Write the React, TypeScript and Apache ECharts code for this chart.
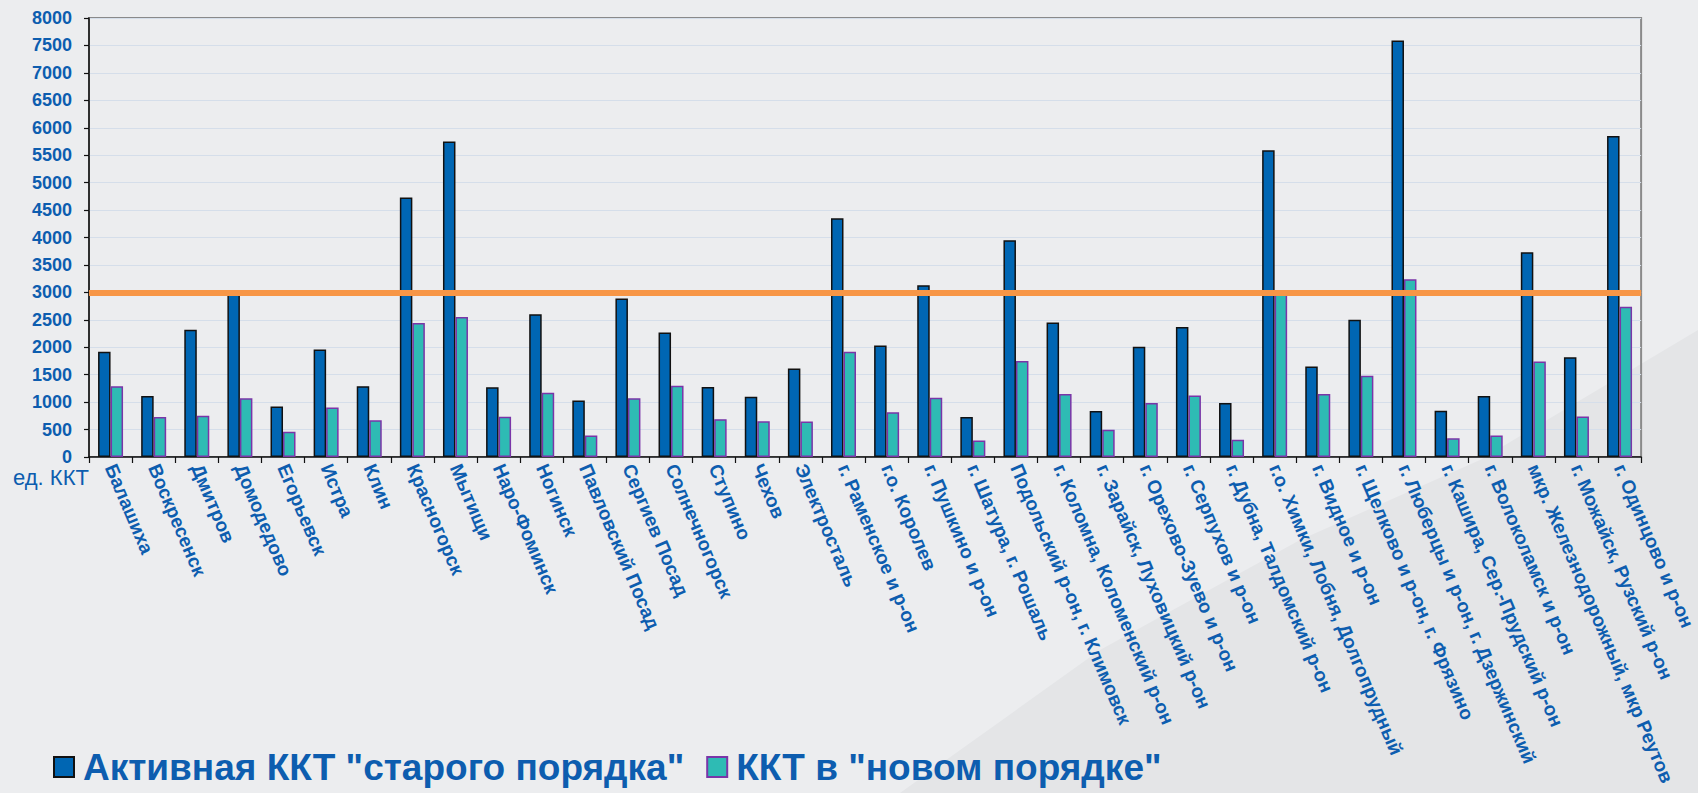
import React, { useEffect, useRef } from "react";
import * as echarts from "echarts";

const categories = [
  "Балашиха",
  "Воскресенск",
  "Дмитров",
  "Домодедово",
  "Егорьевск",
  "Истра",
  "Клин",
  "Красногорск",
  "Мытищи",
  "Наро-Фоминск",
  "Ногинск",
  "Павловский Посад",
  "Сергиев Посад",
  "Солнечногорск",
  "Ступино",
  "Чехов",
  "Электросталь",
  "г. Раменское и р-он",
  "г.о. Королев",
  "г. Пушкино и р-он",
  "г. Шатура, г. Рошаль",
  "Подольский р-он, г. Климовск",
  "г. Коломна, Коломенский р-он",
  "г. Зарайск, Луховицкий р-он",
  "г. Орехово-Зуево и р-он",
  "г. Серпухов и р-он",
  "г. Дубна, Талдомский р-он",
  "г.о. Химки, Лобня, Долгопрудный",
  "г. Видное и р-он",
  "г. Щелково и р-он, г. Фрязино",
  "г. Люберцы и р-он, г. Дзержинский",
  "г. Кашира, Сер.-Прудский р-он",
  "г. Волоколамск и р-он",
  "мкр. Железнодорожный, мкр Реутов",
  "г. Можайск, Рузский р-он",
  "г. Одинцово и р-он",
];

const oldOrder = [
  1920, 1110, 2320, 2970, 920, 1960, 1290, 4730, 5750, 1270, 2600, 1030, 2890,
  2270, 1275, 1100, 1615, 4350, 2030, 3130, 730, 3950, 2450, 840, 2010, 2370,
  985, 5590, 1650, 2500, 7590, 845, 1110, 3730, 1820, 5850,
];

const newOrder = [
  1290, 730, 750, 1070, 460, 900, 670, 2440, 2550, 735, 1170, 390, 1070, 1300,
  690, 650, 645, 1920, 815, 1080, 300, 1750, 1150, 495, 985, 1120, 315, 2960,
  1150, 1480, 3240, 340, 390, 1740, 740, 2740,
];

const seriesNames = ['Активная ККТ "старого порядка"', 'ККТ в "новом порядке"'];
const thresholdValue = 3000;
const unitLabel = "ед. ККТ";

const TEXT_BLUE = "#0D5DAF";
const FONT = "'Liberation Sans', Arial, sans-serif";

export default function App() {
  const ref = useRef<HTMLDivElement>(null);

  useEffect(() => {
    document.body.style.margin = "0";
    document.body.style.background = "#ECEDEF";
    const chart = echarts.init(ref.current!, undefined, { renderer: "svg" });
    chart.setOption({
      animation: false,
      backgroundColor: "#ECEDEF",
      textStyle: { fontFamily: FONT },
      graphic: [
        {
          type: "polygon",
          z: -10,
          silent: true,
          shape: {
            points: [
              [900, 793],
              [1100, 650],
              [1300, 540],
              [1480, 460],
              [1698, 330],
              [1698, 793],
            ],
          },
          style: { fill: "#E4E5E7" },
        },
        {
          type: "text",
          left: 13,
          top: 466,
          silent: true,
          style: {
            text: unitLabel,
            fill: TEXT_BLUE,
            font: `22px ${FONT}`,
          },
        },
      ],
      grid: {
        left: 89,
        right: 49,
        top: 18,
        bottom: 336,
        show: true,
        borderColor: "#8A8A8A",
        borderWidth: 2,
        backgroundColor: "transparent",
      },
      legend: {
        left: 53,
        top: 746,
        padding: 0,
        itemWidth: 20,
        itemHeight: 20,
        itemGap: 22,
        icon: "rect",
        selectedMode: false,
        textStyle: {
          fontSize: 37,
          fontWeight: "bold",
          color: TEXT_BLUE,
          fontFamily: FONT,
          lineHeight: 42,
          padding: [0, 0, 0, 4],
        },
        data: seriesNames,
      },
      xAxis: {
        type: "category",
        data: categories,
        boundaryGap: true,
        axisLine: { show: true, lineStyle: { color: "#111", width: 1.5 } },
        axisTick: { show: true, length: 6, lineStyle: { color: "#111", width: 1.2 } },
        axisLabel: {
          interval: 0,
          rotate: -67,
          margin: 8,
          fontSize: 19,
          fontWeight: "bold",
          color: TEXT_BLUE,
          fontFamily: FONT,
        },
        splitLine: { show: false },
      },
      yAxis: {
        type: "value",
        min: 0,
        max: 8000,
        interval: 500,
        axisLine: { show: true, lineStyle: { color: "#111", width: 1.5 } },
        axisTick: { show: true, length: 5, lineStyle: { color: "#111", width: 1.2 } },
        axisLabel: {
          margin: 17,
          fontSize: 18,
          fontWeight: "bold",
          color: TEXT_BLUE,
          fontFamily: FONT,
          formatter: (v: number) => String(v),
        },
        splitLine: { show: true, lineStyle: { color: "#D5DEEA", width: 1.2 } },
      },
      series: [
        {
          name: seriesNames[0],
          type: "bar",
          data: oldOrder,
          barWidth: 12.5,
          barGap: "0%",
          itemStyle: { color: "#0066B3", borderColor: "#111111", borderWidth: 1.5 },
          markLine: {
            silent: true,
            symbol: ["none", "none"],
            label: { show: false },
            z: 10,
            lineStyle: {
              color: "#F79646",
              width: 6,
              type: "solid",
            },
            data: [{ yAxis: thresholdValue }],
          },
        },
        {
          name: seriesNames[1],
          type: "bar",
          data: newOrder,
          barWidth: 12.5,
          barGap: "0%",
          itemStyle: { color: "#2EBBB4", borderColor: "#7A35A8", borderWidth: 1.5 },
        },
      ],
    });
    return () => chart.dispose();
  }, []);

  return (
    <div
      ref={ref}
      style={{ position: "fixed", left: 0, top: 0, width: 1698, height: 793, background: "#ECEDEF" }}
    />
  );
}
